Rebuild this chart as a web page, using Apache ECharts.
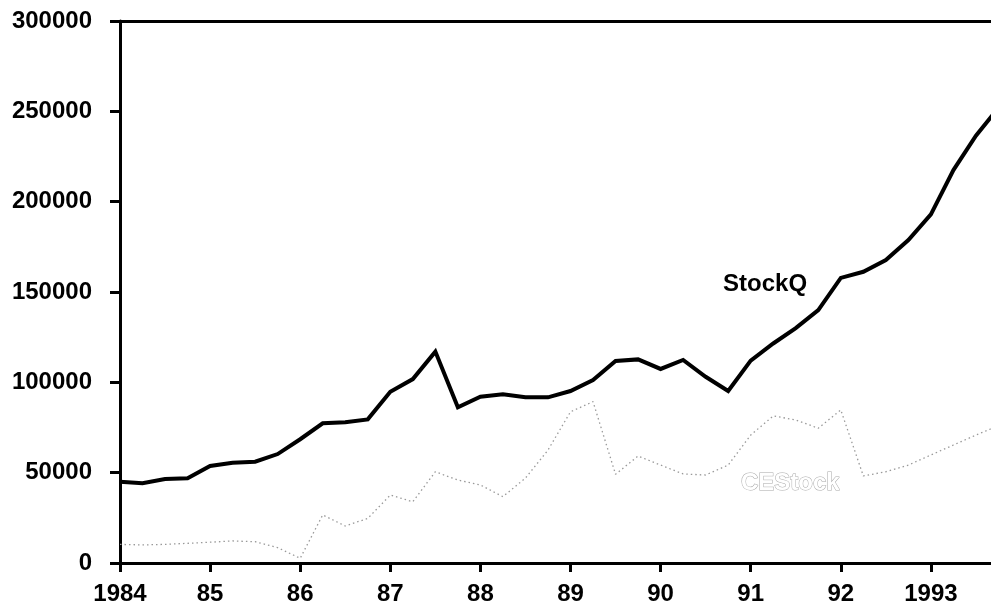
<!DOCTYPE html>
<html>
<head>
<meta charset="utf-8">
<script src="https://cdn.jsdelivr.net/npm/echarts@6/dist/echarts.min.js"></script>
<style>
html,body{margin:0;padding:0;background:#fff;overflow:hidden;width:991px;height:609px;}
#chart{width:1024px;height:609px;}
</style>
</head>
<body>
<div id="chart"></div>
<script>
// Quarterly periods, 1984 Q1 .. 1993 Q4
const periods = [
  1984.00,1984.25,1984.50,1984.75,
  1985.00,1985.25,1985.50,1985.75,
  1986.00,1986.25,1986.50,1986.75,
  1987.00,1987.25,1987.50,1987.75,
  1988.00,1988.25,1988.50,1988.75,
  1989.00,1989.25,1989.50,1989.75,
  1990.00,1990.25,1990.50,1990.75,
  1991.00,1991.25,1991.50,1991.75,
  1992.00,1992.25,1992.50,1992.75,
  1993.00,1993.25,1993.50,1993.75
];
const stockQ = [
  45000,44100,46500,46900,
  53700,55500,56100,60300,
  68500,77300,77900,79500,
  94800,101800,117000,86200,
  92000,93400,91700,91700,
  95200,101300,111800,112700,
  107400,112400,103100,95200,
  112000,121500,130000,140000,
  157800,161200,167700,178800,
  193000,217500,236500,252000
];
const ceStock = [
  10300,10000,10300,10900,
  11500,12200,11800,8500,
  2600,26600,20500,24700,
  37600,33900,50500,45900,
  43200,36700,47000,62500,
  83700,89300,49100,59200,
  54200,49300,48700,54200,
  70800,81400,79200,74600,
  84700,48200,50500,54200,
  59800,65300,70800,76000
];
const yTicks = [0,50000,100000,150000,200000,250000,300000];
const seriesNames = ['StockQ','CEStock'];

const chart = echarts.init(document.getElementById('chart'));
const font = '"Liberation Sans", Arial, Helvetica, sans-serif';

chart.setOption({
  animation: false,
  backgroundColor: '#fff',
  grid: { left: 120, right: 0, top: 21, bottom: 46, containLabel: false },
  xAxis: [{
    type: 'value',
    min: 1984, max: 1994, interval: 1,
    axisLine: { show: true, lineStyle: { color: '#000', width: 3 } },
    axisTick: { show: true, inside: false, length: 9, lineStyle: { color: '#000', width: 3 } },
    splitLine: { show: false },
    axisLabel: {
      margin: 19,
      color: '#000', fontFamily: font, fontSize: 24, fontWeight: 'bold',
      formatter: function (v) {
        if (v > 1993) return '';
        if (v === 1984 || v === 1993) return String(v);
        return String(v).slice(2);
      }
    }
  }, {
    type: 'value', position: 'top',
    min: 1984, max: 1994,
    axisLine: { show: true, lineStyle: { color: '#000', width: 3 } },
    axisTick: { show: false }, axisLabel: { show: false }, splitLine: { show: false }
  }],
  yAxis: {
    type: 'value', min: 0, max: 300000, interval: 50000,
    axisLine: { show: true, lineStyle: { color: '#000', width: 3 } },
    axisTick: { show: true, inside: false, length: 10, lineStyle: { color: '#000', width: 3 } },
    splitLine: { show: false },
    axisLabel: {
      margin: 28,
      color: '#000', fontFamily: font, fontSize: 24, fontWeight: 'bold',
      formatter: function (v) { return yTicks.indexOf(v) >= 0 ? String(v) : ''; }
    }
  },
  series: [{
    name: seriesNames[0], type: 'line', xAxisIndex: 0,
    data: periods.map((p, i) => [p, stockQ[i]]),
    showSymbol: false, symbol: 'none', clip: true,
    lineStyle: { color: '#000', width: 4, join: 'miter' },
    markPoint: {
      symbol: 'circle', symbolSize: 1,
      itemStyle: { color: 'rgba(0,0,0,0)' },
      data: [{ coord: [1991.16, 154400],
        label: { show: true, position: 'inside', formatter: 'StockQ',
          color: '#000', fontFamily: font, fontSize: 24, fontWeight: 'bold' } }]
    }
  }, {
    name: seriesNames[1], type: 'line', xAxisIndex: 0,
    data: periods.map((p, i) => [p, ceStock[i]]),
    showSymbol: false, symbol: 'none', clip: true,
    lineStyle: { color: '#999', width: 1.3, type: [1.5, 3] },
    markPoint: {
      symbol: 'circle', symbolSize: 1,
      itemStyle: { color: 'rgba(0,0,0,0)' },
      data: [{ coord: [1991.44, 44300],
        label: { show: true, position: 'inside', formatter: 'CEStock',
          color: '#fff', textBorderColor: '#aaa', textBorderWidth: 1,
          fontFamily: font, fontSize: 24, fontWeight: 'bold' } }]
    }
  }]
});
</script>
</body>
</html>
